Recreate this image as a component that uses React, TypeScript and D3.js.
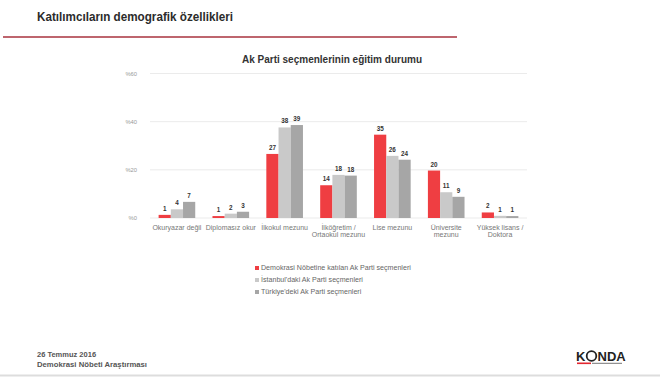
import React from "react";
import * as d3 from "d3";

const categories: string[][] = [
  ["Okuryazar değil"],
  ["Diplomasız okur"],
  ["İlkokul mezunu"],
  ["İlköğretim /", "Ortaokul mezunu"],
  ["Lise mezunu"],
  ["Üniversite", "mezunu"],
  ["Yüksek lisans /", "Doktora"],
];
const seriesNames = [
  "Demokrasi Nöbetine katılan Ak Parti seçmenleri",
  "İstanbul'daki Ak Parti seçmenleri",
  "Türkiye'deki Ak Parti seçmenleri",
];
const demokrasi = [1.3, 0.8, 26.6, 13.6, 34.6, 19.7, 2.3];
const istanbul = [3.6, 1.8, 37.6, 17.9, 25.8, 10.7, 0.9];
const turkiye = [6.7, 2.6, 38.6, 17.6, 24.2, 8.8, 0.8];
const yTicks = [0, 20, 40, 60];
const colors = ["#EF3E42", "#C9C9C9", "#A6A6A6"];

const W = 660;
const H = 377;

export default function App() {
  const series = [demokrasi, istanbul, turkiye];
  const x0 = d3
    .scaleBand<number>()
    .domain(categories.map((_, i) => i))
    .range([150, 527])
    .paddingInner(0.32)
    .paddingOuter(0.16);
  const x1 = d3
    .scaleBand<number>()
    .domain([0, 1, 2])
    .range([0, x0.bandwidth()]);
  const y = d3.scaleLinear().domain([0, 60]).range([218, 73.5]);
  const font = "'Liberation Sans', Arial, sans-serif";
  const narrow = "'Liberation Sans Narrow', 'Liberation Sans', Arial, sans-serif";

  return (
    <svg
      width={W}
      height={H}
      viewBox={`0 0 ${W} ${H}`}
      style={{ position: "absolute", left: 0, top: 0, background: "#fff" }}
    >
      <rect x={0} y={0} width={W} height={H} fill="#fff" />
      {/* header */}
      <text
        x={37}
        y={21}
        fontFamily={narrow}
        fontWeight="bold"
        fontSize={13}
        fill="#2b2b2b"
        textLength={196}
        lengthAdjust="spacingAndGlyphs"
      >
        Katılımcıların demografik özellikleri
      </text>
      <line x1={3} x2={457} y1={37} y2={37} stroke="#A8323E" strokeWidth={1.5} />

      {/* chart title */}
      <text
        x={242}
        y={63}
        fontFamily={narrow}
        fontWeight="bold"
        fontSize={10.5}
        fill="#333"
        textLength={180}
        lengthAdjust="spacingAndGlyphs"
      >
        Ak Parti seçmenlerinin eğitim durumu
      </text>

      {/* grid + y labels */}
      {yTicks.map((t) => (
        <g key={t}>
          <line x1={150} x2={527} y1={y(t)} y2={y(t)} stroke="#E6E6E6" strokeWidth={0.8} />
          <text
            x={137}
            y={y(t) + 2}
            textAnchor="end"
            fontFamily={font}
            fontSize={5.8}
            fill="#999"
          >
            %{t}
          </text>
        </g>
      ))}

      {/* bars */}
      {categories.map((_, i) => (
        <g key={i} transform={`translate(${x0(i)},0)`}>
          {series.map((s, j) => (
            <g key={j}>
              <rect
                x={x1(j)}
                y={y(s[i])}
                width={x1.bandwidth()}
                height={y(0) - y(s[i])}
                fill={colors[j]}
              />
              <text
                x={(x1(j) as number) + x1.bandwidth() / 2}
                y={y(s[i]) - 4}
                textAnchor="middle"
                fontFamily={font}
                fontWeight="bold"
                fontSize={6.3}
                fill="#333"
              >
                {Math.round(s[i])}
              </text>
            </g>
          ))}
        </g>
      ))}

      {/* category labels */}
      {categories.map((lines, i) => (
        <text
          key={i}
          x={(x0(i) as number) + x0.bandwidth() / 2}
          y={229.5}
          textAnchor="middle"
          fontFamily={font}
          fontSize={7}
          fill="#777"
        >
          {lines.map((l, k) => (
            <tspan key={k} x={(x0(i) as number) + x0.bandwidth() / 2} dy={k === 0 ? 0 : 7.8}>
              {l}
            </tspan>
          ))}
        </text>
      ))}

      {/* legend */}
      {seriesNames.map((n, j) => (
        <g key={j} transform={`translate(255,${268 + j * 12})`}>
          <rect x={0} y={-2} width={4} height={4} fill={colors[j]} />
          <text x={6} y={2.4} fontFamily={font} fontSize={7.1} fill="#666">
            {n}
          </text>
        </g>
      ))}

      {/* footer */}
      <text x={37} y={357} fontFamily={narrow} fontWeight="bold" fontSize={7.5} fill="#555">
        26 Temmuz 2016
      </text>
      <text
        x={37}
        y={366.5}
        fontFamily={narrow}
        fontWeight="bold"
        fontSize={7.5}
        fill="#555"
        textLength={110}
        lengthAdjust="spacingAndGlyphs"
      >
        Demokrasi Nöbeti Araştırması
      </text>

      {/* logo */}
      <text x={576} y={361} fontFamily={font} fontWeight="bold" fontSize={13} fill="#222">
        K
      </text>
      <circle cx={591.5} cy={356} r={4.8} fill="none" stroke="#222" strokeWidth={1.8} />
      <text x={597.5} y={361} fontFamily={font} fontWeight="bold" fontSize={13} fill="#222">
        NDA
      </text>
      <rect x={577} y={362.5} width={14} height={1.6} fill="#E3262F" />
      <rect x={592} y={362.8} width={30} height={1} fill="#777" />

      {/* bottom border */}
      <line x1={0} x2={W} y1={375.5} y2={375.5} stroke="#DDD" strokeWidth={2} />
    </svg>
  );
}
